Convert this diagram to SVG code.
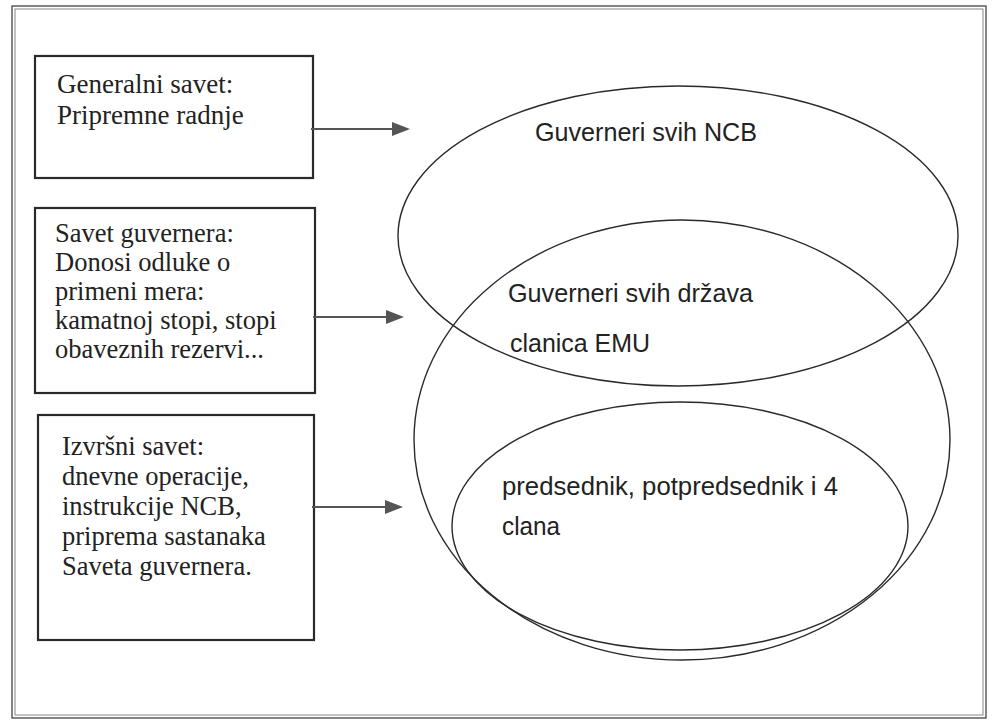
<svg xmlns="http://www.w3.org/2000/svg" width="996" height="725" viewBox="0 0 996 725">
<style>
.frame{fill:none;stroke:#444;stroke-width:1.3}
.frame2{fill:none;stroke:#888;stroke-width:1}
.box{fill:#fff;stroke:#2a2a2a;stroke-width:2.2}
.ell{fill:none;stroke:#2a2a2a;stroke-width:1.4}
.bt{font-family:"Liberation Serif","Times New Roman",serif;font-size:27px;fill:#222}
.bt2{font-family:"Liberation Serif","Times New Roman",serif;font-size:26.5px;fill:#222}
.et{font-family:"Liberation Sans Narrow","Liberation Sans",Arial,sans-serif;font-size:25px;fill:#222}
.conn line{stroke:#555;stroke-width:2}
.conn polygon{fill:#555}
</style>
<rect width="996" height="725" fill="#fff"/>
<rect class="frame" x="12" y="6" width="974" height="712"/>
<rect class="frame2" x="15" y="9" width="968" height="706"/>
<g id="ellipse-ncb">
<ellipse class="ell" cx="678" cy="236" rx="280" ry="150"/>
<text class="et" x="535" y="141" textLength="222" lengthAdjust="spacingAndGlyphs">Guverneri svih NCB</text>
</g>
<g id="ellipse-emu">
<ellipse class="ell" cx="682" cy="440" rx="268" ry="220"/>
<text class="et" x="508" y="302" textLength="245" lengthAdjust="spacingAndGlyphs">Guverneri svih država</text>
<text class="et" x="510" y="352" textLength="140" lengthAdjust="spacingAndGlyphs">clanica EMU</text>
</g>
<g id="ellipse-board">
<ellipse class="ell" cx="680" cy="526" rx="228" ry="124"/>
<text class="et" x="502" y="495" textLength="336" lengthAdjust="spacingAndGlyphs">predsednik, potpredsednik i 4</text>
<text class="et" x="502" y="535" textLength="58" lengthAdjust="spacingAndGlyphs">clana</text>
</g>
<g id="box-general">
<rect class="box" x="35" y="56" width="278" height="122"/>
<text class="bt" x="57" y="93">Generalni savet:</text>
<text class="bt" x="57" y="124">Pripremne radnje</text>
</g>
<g id="box-governing">
<rect class="box" x="35" y="208" width="280" height="185"/>
<text class="bt2" x="55" y="242">Savet guvernera:</text>
<text class="bt2" x="55" y="271">Donosi odluke o</text>
<text class="bt2" x="55" y="300">primeni mera:</text>
<text class="bt2" x="55" y="329">kamatnoj stopi, stopi</text>
<text class="bt2" x="55" y="358">obaveznih rezervi...</text>
</g>
<g id="box-executive">
<rect class="box" x="38" y="415" width="276" height="225"/>
<text class="bt2" x="62" y="455">Izvršni savet:</text>
<text class="bt2" x="62" y="485">dnevne operacije,</text>
<text class="bt2" x="62" y="515">instrukcije NCB,</text>
<text class="bt2" x="62" y="545">priprema sastanaka</text>
<text class="bt2" x="62" y="575">Saveta guvernera.</text>
</g>
<g id="connectors" class="conn">
<line x1="311" y1="129" x2="394" y2="129"/>
<polygon points="410,129 392,122 392,136"/>
<line x1="313" y1="317" x2="388" y2="317"/>
<polygon points="404,317 386,310 386,324"/>
<line x1="312" y1="507" x2="387" y2="507"/>
<polygon points="403,507 385,500 385,514"/>
</g>
</svg>
